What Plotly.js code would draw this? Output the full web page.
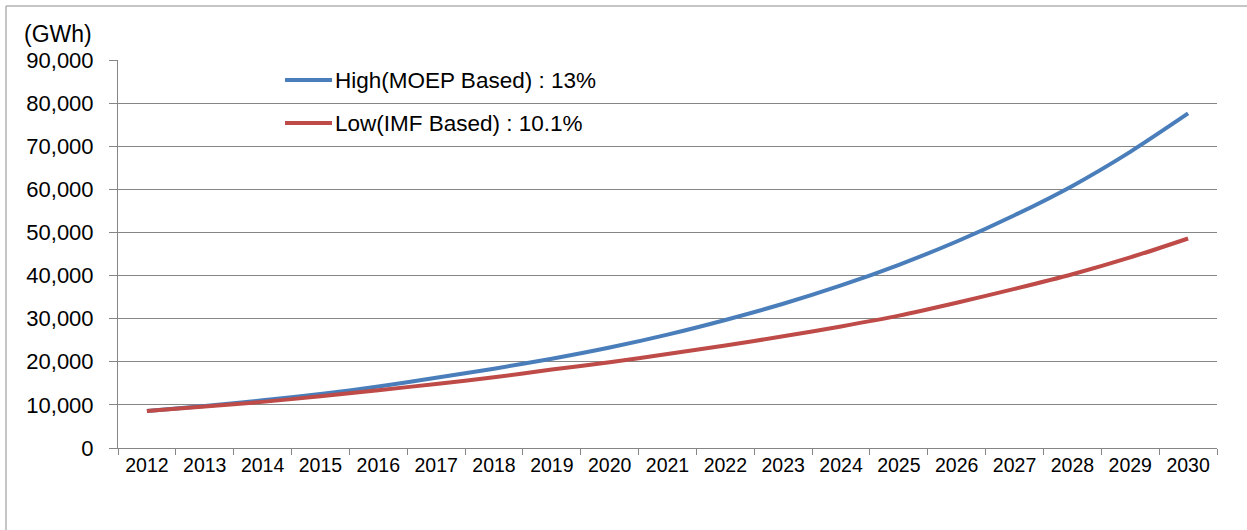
<!DOCTYPE html>
<html>
<head>
<meta charset="utf-8">
<script src="https://cdn.plot.ly/plotly-3.0.1.min.js"></script>
<style>html,body{margin:0;padding:0;background:#fff;}#chart{width:1247px;height:530px;}</style>
</head>
<body>
<div id="chart"></div>
<script>
const years = ['2012','2013','2014','2015','2016','2017','2018','2019','2020','2021','2022','2023','2024','2025','2026','2027','2028','2029','2030'];
const highValues = [8600, 9750, 11050, 12500, 14250, 16300, 18400, 20700, 23300, 26300, 29700, 33450, 37700, 42500, 47900, 54000, 60800, 68700, 77600];
const lowValues  = [8600, 9600, 10700, 12000, 13400, 14850, 16400, 18200, 19900, 21800, 23800, 25900, 28200, 30700, 33700, 36900, 40300, 44200, 48600];
const seriesNames = ['High(MOEP Based) : 13%', 'Low(IMF Based) : 10.1%'];
const seriesColors = ['#4A7EBB', '#BE4B48'];
const yTickVals = [0,10000,20000,30000,40000,50000,60000,70000,80000,90000];
const yTickText = ['0','10,000','20,000','30,000','40,000','50,000','60,000','70,000','80,000','90,000'];
const unitLabel = '(GWh)';

const L = 118, R = 1217, T = 60, B = 448;
const W = 1247, H = 530;
const px = p => (p - L) / (R - L);
const py = q => (B - q) / (B - T);
const FONT = 'Liberation Sans, Arial, sans-serif';

const traces = [highValues, lowValues].map((vals, i) => ({
  type: 'scatter', mode: 'lines', x: years, y: vals, name: seriesNames[i],
  line: {color: seriesColors[i], width: 4, shape: 'spline', smoothing: 0.8},
  hoverinfo: 'x+y', showlegend: false
}));

const legendY = [80, 123];
const shapes = [
  {type: 'rect', xref: 'paper', yref: 'paper', x0: px(6), x1: px(1300), y0: py(600), y1: py(6),
   line: {color: '#8c8c8c', width: 1}, fillcolor: 'rgba(0,0,0,0)', layer: 'below'}
];
const annotations = [
  {xref: 'paper', yref: 'paper', x: px(22), y: py(34), xanchor: 'left', yanchor: 'middle',
   text: unitLabel, showarrow: false, font: {family: FONT, size: 23, color: '#000'}}
];
seriesNames.forEach((n, i) => {
  shapes.push({type: 'line', xref: 'paper', yref: 'paper', x0: px(285), x1: px(332), y0: py(legendY[i]), y1: py(legendY[i]),
    line: {color: seriesColors[i], width: 4}});
  annotations.push({xref: 'paper', yref: 'paper', x: px(333), y: py(legendY[i]), xanchor: 'left', yanchor: 'middle',
    text: n, showarrow: false, font: {family: FONT, size: 22.5, color: '#000'}});
});

const layout = {
  width: W, height: H,
  margin: {l: L, r: W - R, t: T, b: H - B, pad: 0},
  paper_bgcolor: '#fff', plot_bgcolor: '#fff',
  font: {family: FONT, color: '#000'},
  showlegend: false,
  xaxis: {
    type: 'category', range: [-0.5, 18.5], tickson: 'boundaries',
    showgrid: false, showline: true, linecolor: '#868686', linewidth: 1,
    ticks: 'outside', ticklen: 6, tickcolor: '#868686', tickwidth: 1,
    tickfont: {size: 19.5, color: '#000'}, fixedrange: true, zeroline: false
  },
  yaxis: {
    range: [0, 90000], tickvals: yTickVals, ticktext: yTickText,
    showgrid: true, gridcolor: '#868686', gridwidth: 1,
    showline: true, linecolor: '#868686', linewidth: 1,
    ticks: 'outside', ticklen: 8, tickcolor: '#868686', tickwidth: 1,
    ticklabelstandoff: 11,
    tickfont: {size: 22, color: '#000'}, zeroline: false, fixedrange: true
  },
  shapes: shapes,
  annotations: annotations
};

Plotly.newPlot('chart', traces, layout, {displayModeBar: false, staticPlot: true});
</script>
</body>
</html>
